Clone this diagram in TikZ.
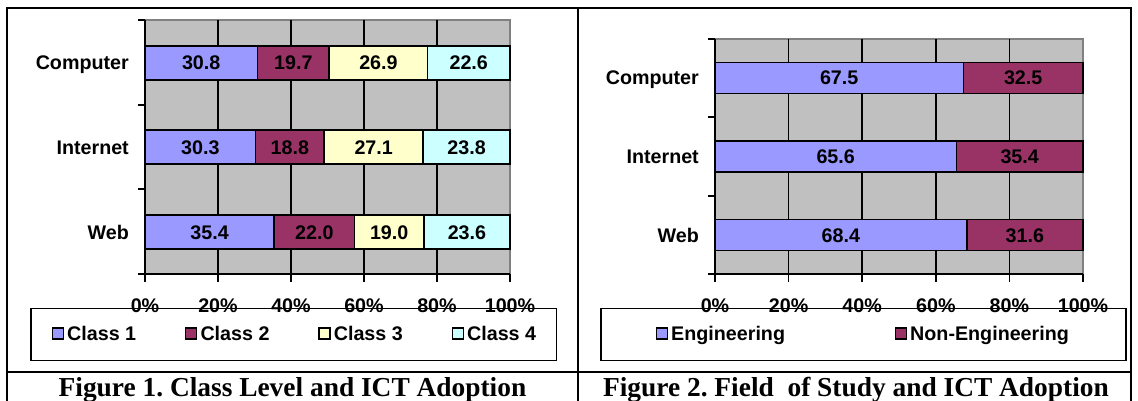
\documentclass[tikz,border=0pt]{standalone}
\usepackage{fontspec}
\setmainfont{Liberation Sans}
\newfontfamily\capfont{Liberation Serif}
\usetikzlibrary{positioning}
\definecolor{clsone}{HTML}{9999FF}
\definecolor{clstwo}{HTML}{993366}
\definecolor{clsthree}{HTML}{FFFFCC}
\definecolor{clsfour}{HTML}{CCFFFF}
\definecolor{plotbg}{HTML}{C0C0C0}
\definecolor{plotedge}{HTML}{808080}
\newcommand{\chartfont}{\fontsize{19.7}{23}\selectfont\bfseries}
\newcommand{\captionfont}{\capfont\fontsize{27.4}{31}\selectfont\bfseries}
\frenchspacing

\begin{document}
\begin{tikzpicture}[x=1pt, y=-1pt,
  frame/.style={line width=2pt},
  gridline/.style={line width=1.6pt},
  axisline/.style={line width=1.6pt},
  seg/.style={draw, line width=1.8pt},
  val/.style={font=\chartfont, anchor=base, inner sep=0pt},
  cat/.style={font=\chartfont, anchor=base east, inner sep=0pt},
  legbox/.style={draw, fill=white, line width=1.8pt},
  swatch/.style={draw, line width=1.3pt, minimum size=11pt, inner sep=0pt},
  legtext/.style={font=\chartfont, anchor=base west, inner sep=0pt},
  figcap/.style={font=\captionfont, anchor=base, inner sep=0pt}]
\useasboundingbox (0,0) rectangle (1138,401);

% Figure 1
\fill[plotbg] (145,20) rectangle (510,274);
\draw[plotedge, line width=1.6pt] (145,20) -- (510,20) -- (510,274);
\foreach \gx in {218,291,364,437}
  \draw[gridline] (\gx,20) -- (\gx,274);
\foreach \yc/\lbl/\a/\b/\c/\d in {63/Computer/30.8/19.7/26.9/22.6,
    147/Internet/30.3/18.8/27.1/23.8, 232/Web/35.4/22.0/19.0/23.6}{
  \pgfmathsetmacro\xa{145+3.65*\a}
  \pgfmathsetmacro\xb{\xa+3.65*\b}
  \pgfmathsetmacro\xc{\xb+3.65*\c}
  \draw[seg, fill=clsone] (145,\yc-17) rectangle (\xa,\yc+17);
  \draw[seg, fill=clstwo] (\xa,\yc-17) rectangle (\xb,\yc+17);
  \draw[seg, fill=clsthree] (\xb,\yc-17) rectangle (\xc,\yc+17);
  \draw[seg, fill=clsfour] (\xc,\yc-17) rectangle (510,\yc+17);
  \node[val] at ({(145+\xa)/2},\yc+7) {\a};
  \node[val] at ({(\xa+\xb)/2},\yc+7) {\b};
  \node[val] at ({(\xb+\xc)/2},\yc+7) {\c};
  \node[val] at ({(\xc+510)/2},\yc+7) {\d};
  \node[cat] (lcat-\lbl) at (129,\yc+7) {\lbl};
}
\draw[axisline] (145,20) -- (145,274) -- (510,274);
\foreach \ty in {20,105,189,274}
  \draw[axisline] (138,\ty) -- (145,\ty);
\draw[legbox] (31,308.5) rectangle (556.5,360.5);
\foreach \k [evaluate=\k as \pc using int(20*\k)] in {0,...,5}{
  \draw[axisline] ({145+73*\k},274) -- ({145+73*\k},282);
  \node[val] (ltick\k) at ({145+73*\k},312) {\pc\%};
}
\foreach \k/\fillc in {0/clsone,1/clstwo,2/clsthree,3/clsfour}{
  \node[swatch, fill=\fillc] (lsw\k) at ({58+133.3*\k},333.5) {};
  \node[legtext] (lleg\k) at ({67+133.3*\k},340) {Class \pgfmathparse{int(\k+1)}\pgfmathresult};
}
\node[figcap] (cap1) at (292.5,396) {Figure 1. Class Level and ICT Adoption};

% Figure 2
\fill[plotbg] (715,39) rectangle (1083,274);
\draw[plotedge, line width=1.6pt] (715,39) -- (1083,39) -- (1083,274);
\foreach \gx in {788.6,862.2,935.8,1009.4}
  \draw[gridline] (\gx,39) -- (\gx,274);
\foreach \yc/\lbl/\a/\b in {78/Computer/67.5/32.5,
    156.5/Internet/65.6/35.4, 235/Web/68.4/31.6}{
  \pgfmathsetmacro\xa{715+3.68*\a}
  \draw[seg, fill=clsone] (715,\yc-15.5) rectangle (\xa,\yc+15.5);
  \draw[seg, fill=clstwo] (\xa,\yc-15.5) rectangle (1083,\yc+15.5);
  \node[val] at ({(715+\xa)/2},\yc+7) {\a};
  \node[val] at ({(\xa+1083)/2},\yc+7) {\b};
  \node[cat] (rcat-\lbl) at (699,\yc+7) {\lbl};
}
\draw[axisline] (715,39) -- (715,274) -- (1083,274);
\foreach \ty in {39,117.3,195.7,274}
  \draw[axisline] (708,\ty) -- (715,\ty);
\draw[legbox] (601,308.5) rectangle (1126,360.5);
\foreach \k [evaluate=\k as \pc using int(20*\k)] in {0,...,5}{
  \draw[axisline] ({715+73.6*\k},274) -- ({715+73.6*\k},282);
  \node[val] (rtick\k) at ({715+73.6*\k},312) {\pc\%};
}
\node[swatch, fill=clsone] (rsw0) at (662,333.5) {};
\node[legtext] (rleg0) at (671,340) {Engineering};
\node[swatch, fill=clstwo] (rsw1) at (901,333.5) {};
\node[legtext] (rleg1) at (910,340) {Non-Engineering};
\node[figcap] (cap2) at (856,396) {Figure 2. Field\ \ of Study and ICT Adoption};

% table rules
\draw[frame] (7,401) -- (7,8) -- (1131,8) -- (1131,401);
\draw[frame] (578,8) -- (578,401);
\draw[frame] (7,371.5) -- (1131,371.5);
\end{tikzpicture}
\end{document}
